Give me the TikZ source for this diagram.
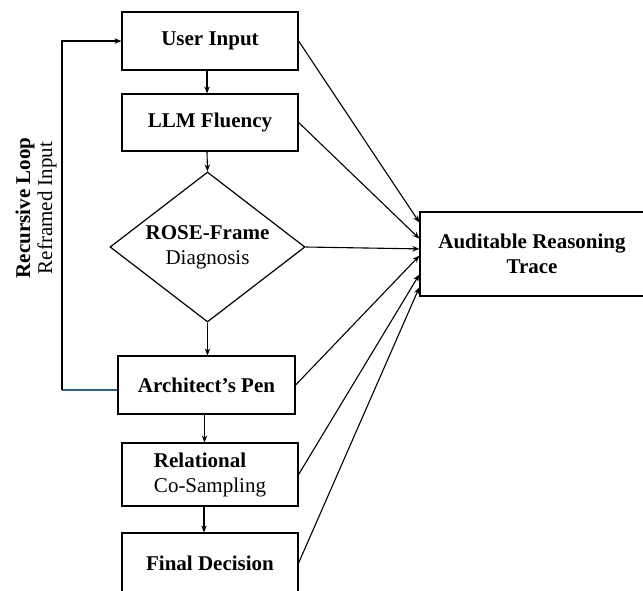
\documentclass[tikz,border=0pt]{standalone}
\usepackage{fontspec}
\setmainfont{Liberation Serif}
\usetikzlibrary{arrows.meta,positioning,calc,shapes.geometric}

\begin{document}
\begin{tikzpicture}[x=1pt,y=-1pt,font=\fontsize{21}{25}\selectfont]
\definecolor{loop edge}{RGB}{40,100,140}
\tikzset{
     box/.style={draw, line width=1.2pt, rectangle, minimum width=176pt, inner sep=0pt},
     flow/.style={-{Stealth[length=7pt,width=5.5pt]}, line width=1.1pt}}

\useasboundingbox (0,0) rectangle (643,590);

% The boxes
\node (input)    [box, minimum height=58pt] at (210,41) {\textbf{User Input}};
\node (fluency)  [box, minimum height=57pt] at (210,122.5) {\textbf{LLM Fluency}};
\node (rose)     [diamond, draw, line width=1.2pt, aspect=1.3, inner sep=0pt,
                  minimum width=195pt, minimum height=150pt, align=center] at (207.5,247)
                 {\textbf{ROSE-Frame}\\Diagnosis};
\node (pen)      [box, minimum width=177pt, minimum height=58pt] at (206.5,385) {\textbf{Architect's Pen}};
\node (cosample) [box, minimum height=63pt, align=left] at (210,474.5) {\textbf{Relational}\\Co-Sampling};
\node (decision) [box, minimum height=60pt] at (210,563) {\textbf{Final Decision}};
\node (trace)    [box, minimum width=224pt, minimum height=84pt, align=center] at (532,254)
                 {\textbf{Auditable Reasoning}\\\textbf{Trace}};

% The main chain
\draw [flow] ([xshift=-3pt]input.south) -- ([xshift=-3pt]fluency.north);
\draw [flow] ([xshift=-3pt]fluency.south) -- (rose.north);
\draw [flow] (rose.south) -- (rose.south |- pen.north);
\draw [flow] ([xshift=-2pt]pen.south) -- ([xshift=-2pt]pen.south |- cosample.north);
\draw [flow] ([xshift=-6pt]cosample.south) -- ([xshift=-6pt]decision.north);

% Everything feeds the trace
\foreach \src/\f in {input/0.13, fluency/0.32, rose/0.44, pen/0.52, cosample/0.74, decision/0.89}
  \draw [flow] (\src.east) -- ($(trace.north west)!\f!(trace.south west)$);

% The loop back
\coordinate (loop bottom) at (62,390);
\coordinate (loop top) at (62,41);
\draw [loop edge, line width=1.2pt] (pen.west |- loop bottom) -- (loop bottom);
\draw [flow] (loop bottom) -- (loop top) -- (input.west);
\node (looplabel) [rotate=90, align=center] at (36,208) {\textbf{Recursive Loop}\\[-3pt]Reframed Input};
\end{tikzpicture}
\end{document}
